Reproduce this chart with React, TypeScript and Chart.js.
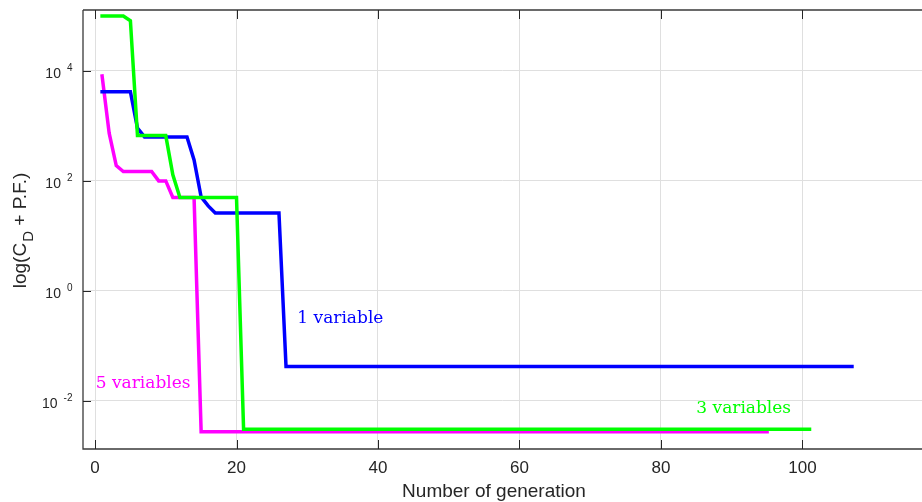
import React, { useEffect, useRef } from "react";
import { Chart, registerables } from "chart.js";

Chart.register(...registerables);

// ---- data (generation number, objective value) at the corners of each curve ----
const blueGen = [1, 5, 6, 7, 13, 14, 15, 16, 17, 26, 27, 107];
const blueVal = [4200, 4200, 912, 631, 631, 240, 51, 35, 26, 26, 0.042, 0.042];

const greenGen = [1, 4, 5, 6, 10, 11, 12, 20, 21, 101];
const greenVal = [100000, 100000, 82000, 667, 667, 129, 50, 50, 0.00302, 0.00302];

const pinkGen = [1, 2, 3, 4, 8, 9, 10, 11, 14, 15, 95];
const pinkVal = [8100, 740, 190, 148, 148, 100, 100, 50, 50, 0.00273, 0.00273];

const xTickValues = [0, 20, 40, 60, 80, 100];
const yTickExponents = [-2, 0, 2, 4];

// ---- in-plot text labels (data coordinates of left/baseline) ----
const noteTexts = ["1 variable", "5 variables", "3 variables"];
const noteGen = [28.6, 0.1, 85.0];
const noteVal = [0.26, 0.0172, 0.00605];
const noteColors = ["#0000ff", "#ff00ff", "#00ff00"];

const X_MIN = -1.7;
const X_MAX = 116.9;
const Y_MIN = Math.pow(10, -2.878);
const Y_MAX = Math.pow(10, 5.109);

const AXIS_COLOR = "#262626";
const GRID_COLOR = "#dfdfdf";
const SANS = '"Liberation Sans", Arial, sans-serif';
const SERIF = '"DejaVu Serif", serif';

function toPoints(g: number[], v: number[]) {
  return g.map((x, i) => ({ x, y: v[i] }));
}

const decorPlugin = {
  id: "matlabDecor",
  afterDatasetsDraw(chart: any) {
    const ctx: CanvasRenderingContext2D = chart.ctx;
    const area = chart.chartArea;
    const xs = chart.scales.x;
    const ys = chart.scales.y;
    ctx.save();

    // axis lines
    ctx.strokeStyle = "#3a3a3a";
    ctx.lineWidth = 1.3;
    ctx.beginPath();
    ctx.moveTo(area.left, area.top);
    ctx.lineTo(area.right, area.top);
    ctx.moveTo(area.left, area.top);
    ctx.lineTo(area.left, area.bottom);
    ctx.lineTo(area.right, area.bottom);
    ctx.stroke();

    // inward tick marks
    ctx.strokeStyle = AXIS_COLOR;
    ctx.lineWidth = 1;
    ctx.beginPath();
    xTickValues.forEach((v) => {
      const px = Math.round(xs.getPixelForValue(v)) + 0.5;
      ctx.moveTo(px, area.bottom);
      ctx.lineTo(px, area.bottom - 9);
      ctx.moveTo(px, area.top);
      ctx.lineTo(px, area.top + 9);
    });
    yTickExponents.forEach((e) => {
      const py = Math.round(ys.getPixelForValue(Math.pow(10, e))) + 0.5;
      ctx.moveTo(area.left, py);
      ctx.lineTo(area.left + 8, py);
    });
    ctx.stroke();

    // y tick labels: 10 with raised exponent
    ctx.fillStyle = AXIS_COLOR;
    ctx.textBaseline = "alphabetic";
    ctx.textAlign = "left";
    yTickExponents.forEach((e) => {
      const py = ys.getPixelForValue(Math.pow(10, e));
      const expStr = e < 0 ? "-" + Math.abs(e) : String(e);
      ctx.font = `10px ${SANS}`;
      const ew = ctx.measureText(expStr).width;
      const right = area.left - 10.5;
      ctx.fillText(expStr, right - ew, py + 0.5);
      ctx.font = `14px ${SANS}`;
      const bw = ctx.measureText("10").width;
      ctx.fillText("10", right - ew - 6 - bw, py + 7.5);
    });

    // y axis title, rotated, with subscript D
    ctx.save();
    ctx.translate(25.5, 231);
    ctx.rotate(-Math.PI / 2);
    ctx.font = `19px ${SANS}`;
    const p1 = "log(C";
    const p3 = " + P.F.)";
    const w1 = ctx.measureText(p1).width;
    const w3 = ctx.measureText(p3).width;
    ctx.font = `15px ${SANS}`;
    const wD = ctx.measureText("D").width;
    const total = w1 + wD + w3;
    const x0 = -total / 2;
    ctx.font = `19px ${SANS}`;
    ctx.fillText(p1, x0, 0);
    ctx.font = `15px ${SANS}`;
    ctx.fillText("D", x0 + w1 + 1, 7.5);
    ctx.font = `19px ${SANS}`;
    ctx.fillText(p3, x0 + w1 + wD + 1, 0);
    ctx.restore();

    // x axis title
    ctx.font = `19px ${SANS}`;
    ctx.textAlign = "center";
    ctx.fillText("Number of generation", 494, 496.5);

    // in-plot notes
    ctx.textAlign = "left";
    ctx.font = `17px ${SERIF}`;
    noteTexts.forEach((t, i) => {
      ctx.fillStyle = noteColors[i];
      ctx.fillText(t, xs.getPixelForValue(noteGen[i]), ys.getPixelForValue(noteVal[i]));
    });

    ctx.restore();
  },
};

export default function App() {
  const ref = useRef<HTMLCanvasElement>(null);

  useEffect(() => {
    if (!ref.current) return;
    const lineStyle = {
      borderWidth: 3.5,
      pointRadius: 0,
      tension: 0,
      fill: false,
      borderCapStyle: "square" as const,
      borderJoinStyle: "miter" as const,
    };
    const chart = new Chart(ref.current, {
      type: "line",
      data: {
        datasets: [
          {
            label: "3 variables",
            data: toPoints(greenGen, greenVal),
            borderColor: "#00ff00",
            backgroundColor: "#00ff00",
            order: 0,
            ...lineStyle,
          },
          {
            label: "1 variable",
            data: toPoints(blueGen, blueVal),
            borderColor: "#0000ff",
            backgroundColor: "#0000ff",
            order: 1,
            ...lineStyle,
          },
          {
            label: "5 variables",
            data: toPoints(pinkGen, pinkVal),
            borderColor: "#ff00ff",
            backgroundColor: "#ff00ff",
            order: 2,
            ...lineStyle,
          },
        ],
      },
      options: {
        animation: false,
        responsive: false,
        maintainAspectRatio: false,
        layout: { padding: { top: 10, right: 0, left: 0, bottom: 0 } },
        plugins: { legend: { display: false }, tooltip: { enabled: false } },
        scales: {
          x: {
            type: "linear",
            min: X_MIN,
            max: X_MAX,
            afterBuildTicks: (s: any) => {
              s.ticks = xTickValues.map((v) => ({ value: v }));
            },
            afterFit: (s: any) => {
              s.height = 53;
            },
            grid: { color: GRID_COLOR, drawTicks: false, lineWidth: 1 },
            border: { display: false },
            ticks: {
              font: { family: SANS, size: 17 },
              color: AXIS_COLOR,
              padding: 9,
              maxRotation: 0,
              autoSkip: false,
              callback: (v: any) => String(v),
            },
          },
          y: {
            type: "logarithmic",
            min: Y_MIN,
            max: Y_MAX,
            afterBuildTicks: (s: any) => {
              s.ticks = yTickExponents.map((e) => ({ value: Math.pow(10, e) }));
            },
            afterFit: (s: any) => {
              s.width = 83;
            },
            grid: { color: GRID_COLOR, drawTicks: false, lineWidth: 1 },
            border: { display: false },
            ticks: { display: false },
          },
        },
      },
      plugins: [decorPlugin],
    });
    return () => chart.destroy();
  }, []);

  return (
    <div style={{ position: "absolute", left: 0, top: 0, width: 922, height: 502, background: "#fff" }}>
      <canvas ref={ref} width={922} height={502} style={{ width: 922, height: 502, display: "block" }} />
    </div>
  );
}
